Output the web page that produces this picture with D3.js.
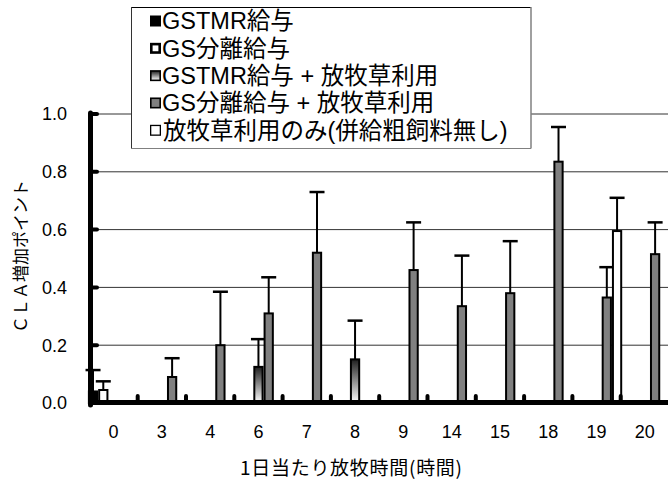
<!DOCTYPE html>
<html><head><meta charset="utf-8">
<script src="https://cdn.jsdelivr.net/npm/d3@7"></script>
<style>
html,body{margin:0;padding:0;background:#fff;}
svg{display:block;}
</style></head>
<body>
<svg id="chart" width="668" height="481"></svg>
<script>
// ---- data ----
const categories = ["0","3","4","6","7","8","9","14","15","18","19","20"];
const seriesNames = ["GSTMR給与","GS分離給与","GSTMR給与 + 放牧草利用","GS分離給与 + 放牧草利用","放牧草利用のみ(併給粗飼料無し)"];
const gstmr      = [0.04, null, null, null, null, null, null, null, null, null, null, null];
const gstmrErr   = [0.074, null, null, null, null, null, null, null, null, null, null, null];
const gsSep      = [0.045, null, null, null, null, null, null, null, null, null, null, null];
const gsSepErr   = [0.03, null, null, null, null, null, null, null, null, null, null, null];
const gstmrGraze = [null, null, null, 0.125, null, 0.151, null, null, null, null, null, null];
const gstmrGrazeErr = [null, null, null, 0.096, null, 0.134, null, null, null, null, null, null];
const gsSepGraze = [null, 0.09, 0.20, 0.31, 0.52, null, 0.46, 0.335, 0.38, 0.835, 0.365, 0.515];
const gsSepGrazeErr = [null, 0.065, 0.185, 0.125, 0.21, null, 0.165, 0.175, 0.18, 0.12, 0.105, 0.11];
const grazeOnly  = [null, null, null, null, null, null, null, null, null, null, 0.595, null];
const grazeOnlyErr = [null, null, null, null, null, null, null, null, null, null, 0.115, null];
const yTicks = [0, 0.2, 0.4, 0.6, 0.8, 1.0];
const xTitle = "1日当たり放牧時間(時間)";
const yTitle = "ＣＬＡ増加ポイント";

const values = [gstmr, gsSep, gstmrGraze, gsSepGraze, grazeOnly];
const errors = [gstmrErr, gsSepErr, gstmrGrazeErr, gsSepGrazeErr, grazeOnlyErr];

const svg = d3.select("#chart");
const FONT = "'Liberation Sans', Arial, 'Noto Sans CJK JP', sans-serif";

const defs = svg.append("defs");
const grad = defs.append("linearGradient").attr("id","grad").attr("x1",0).attr("y1",0).attr("x2",0).attr("y2",1);
grad.append("stop").attr("offset","0%").attr("stop-color","#1e1e1e");
grad.append("stop").attr("offset","100%").attr("stop-color","#ffffff");

const fills = ["#000000","#ffffff","url(#grad)","#808080","#ffffff"];

// ---- scales ----
const x = d3.scaleBand().domain(categories).range([89.4, 669]).padding(0);
const inner = d3.scaleBand().domain(d3.range(5)).range([-1.5, x.bandwidth()+1.5]).padding(0);
const y = d3.scaleLinear().domain([0,1]).range([403,114]);

// gridlines
svg.append("g").selectAll("line").data(yTicks.filter(d=>d>0)).join("line")
  .attr("x1",93).attr("x2",669).attr("y1",d=>y(d)).attr("y2",d=>y(d))
  .attr("stroke","#333").attr("stroke-width",1);

// bars
const bw = inner.bandwidth();
values.forEach((arr,s)=>{
  const g = svg.append("g");
  categories.forEach((c,i)=>{
    const v = arr[i];
    if (v==null) return;
    const bx = x(c)+inner(s);
    g.append("rect").attr("x",bx+1).attr("y",y(v)).attr("width",bw-2).attr("height",y(0)-y(v))
      .attr("fill",fills[s]).attr("stroke","#000").attr("stroke-width",2);
    const e = errors[s][i];
    if (e!=null){
      const cx = bx+bw/2;
      g.append("line").attr("x1",cx).attr("x2",cx).attr("y1",y(v)).attr("y2",y(v+e))
        .attr("stroke","#000").attr("stroke-width",2);
      g.append("line").attr("x1",cx-7.5).attr("x2",cx+7.5).attr("y1",y(v+e)).attr("y2",y(v+e))
        .attr("stroke","#000").attr("stroke-width",2.5);
    }
  });
});

// axes
svg.append("line").attr("x1",90.5).attr("x2",90.5).attr("y1",113).attr("y2",405)
  .attr("stroke","#000").attr("stroke-width",5).attr("stroke-linecap","round");
svg.append("line").attr("x1",89).attr("x2",669).attr("y1",402.5).attr("y2",402.5)
  .attr("stroke","#000").attr("stroke-width",5);
// y tick marks
svg.append("g").selectAll("line").data(yTicks).join("line")
  .attr("x1",91).attr("x2",97).attr("y1",d=>y(d)).attr("y2",d=>y(d))
  .attr("stroke","#000").attr("stroke-width",4).attr("stroke-linecap","round");
// x tick marks at category boundaries
svg.append("g").selectAll("line").data(categories.slice(1)).join("line")
  .attr("x1",d=>x(d)).attr("x2",d=>x(d)).attr("y1",402).attr("y2",396)
  .attr("stroke","#000").attr("stroke-width",4).attr("stroke-linecap","round");

// tick labels
svg.append("g").selectAll("text").data(yTicks).join("text")
  .attr("x",67).attr("y",d=>y(d)).attr("dy","0.35em").attr("text-anchor","end")
  .attr("font-family",FONT).attr("font-size",18).text(d=>d.toFixed(1));
svg.append("g").selectAll("text").data(categories).join("text")
  .attr("x",d=>x(d)+x.bandwidth()/2).attr("y",438).attr("text-anchor","middle")
  .attr("font-family",FONT).attr("font-size",18).text(d=>d);

// axis titles
svg.append("text").attr("x",240).attr("y",475).attr("font-family","'Noto Sans CJK JP', sans-serif")
  .attr("font-size",19).attr("textLength",222).attr("lengthAdjust","spacing").text(xTitle);
svg.append("text").attr("transform","translate(27,256.5) rotate(-90)").attr("text-anchor","middle")
  .attr("font-family","'Noto Sans CJK JP', sans-serif").attr("font-size",17).text(yTitle);

// legend
const lg = svg.append("g");
lg.append("rect").attr("x",131).attr("y",7).attr("width",400).attr("height",141.5).attr("fill","#fff");
lg.append("line").attr("x1",131).attr("x2",531).attr("y1",7.5).attr("y2",7.5).attr("stroke","#000").attr("stroke-width",1);
lg.append("line").attr("x1",131.5).attr("x2",131.5).attr("y1",7).attr("y2",148.5).attr("stroke","#333").attr("stroke-width",1);
lg.append("line").attr("x1",531).attr("x2",531).attr("y1",7).attr("y2",148.5).attr("stroke","#808080").attr("stroke-width",1.5);
lg.append("line").attr("x1",131).attr("x2",531).attr("y1",148.5).attr("y2",148.5).attr("stroke","#808080").attr("stroke-width",1.2);
const rowY = d3.scaleLinear().domain([0,4]).range([21,130.3]);
const symStroke = [0, 2.6, 1.6, 1.6, 1.3];
seriesNames.forEach((name,s)=>{
  const cy = rowY(s);
  lg.append("rect").attr("x",150+symStroke[s]/2).attr("y",cy-5.5+symStroke[s]/2)
    .attr("width",11-symStroke[s]).attr("height",11-symStroke[s])
    .attr("fill",fills[s]).attr("stroke","#000").attr("stroke-width",symStroke[s]);
  lg.append("text").attr("x",s===4?163:162).attr("y",cy+8.3)
    .attr("font-family",FONT).attr("font-size",23.5).text(name);
});
</script>
</body></html>
